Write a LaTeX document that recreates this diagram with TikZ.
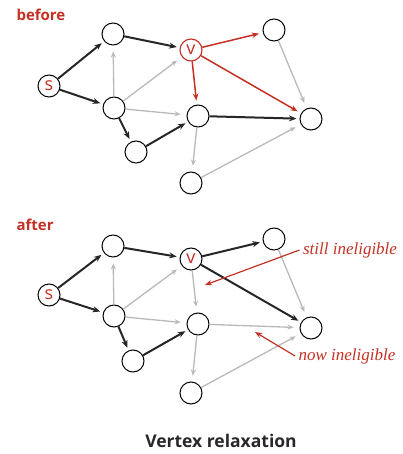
\documentclass[tikz,border=0pt]{standalone}
\usepackage{fontspec}
\setsansfont{Open Sans}
\newfontfamily\notefont{Liberation Serif}
\usetikzlibrary{arrows.meta,positioning}
\definecolor{relaxred}{RGB}{196,48,36}
\definecolor{edgegray}{RGB}{185,185,185}
\definecolor{titlegray}{RGB}{40,40,40}

\begin{document}
\begin{tikzpicture}[
    x=1pt, y=-1pt,
    vtx/.style={circle, draw=black, line width=1pt, minimum size=22pt, inner sep=0pt, fill=white},
    src/.style={vtx, text=relaxred, font=\sffamily\fontsize{18}{18}\selectfont},
    tree/.style={-{Stealth[length=7.5pt,width=6pt]}, line width=2pt, black!85, shorten >=3pt},
    other/.style={-{Stealth[length=6pt,width=5pt]}, line width=1.3pt, edgegray, shorten >=6pt},
    relax/.style={-{Stealth[length=7pt,width=5.5pt]}, line width=1.5pt, relaxred, shorten >=4pt},
    heading/.style={anchor=west, text=relaxred, font=\sffamily\bfseries\fontsize{15}{15}\selectfont},
    note/.style={text=relaxred, font=\notefont\itshape\fontsize{17}{17}\selectfont},
    pointer/.style={-{Stealth[length=7pt,width=5.5pt]}, line width=1.2pt, relaxred}
]
\useasboundingbox (0,0) rectangle (403,454);

% Before
\node[heading] at (13,15) {before};
\node[src] (bs) at (49,86) {s};
\node[vtx] (ba) at (113,34) {};
\node[src, draw=relaxred, line width=1.1pt] (bv) at (191,50) {v};
\node[vtx] (bb) at (274,30) {};
\node[vtx] (bc) at (114,108) {};
\node[vtx] (bd) at (198,116) {};
\node[vtx] (be) at (311,119) {};
\node[vtx] (bf) at (136,152) {};
\node[vtx] (bg) at (191,183) {};

\draw[other] (bc) -- (ba);
\draw[other] (bc) -- (bv);
\draw[other] (bc) -- (bd);
\draw[other] (bd) -- (bg);
\draw[other] (bg) -- (be);
\draw[other] (bb) -- (be);
\draw[tree] (bs) -- (ba);
\draw[tree] (bs) -- (bc);
\draw[tree] (ba) -- (bv);
\draw[tree] (bc) -- (bf);
\draw[tree] (bf) -- (bd);
\draw[tree] (bd) -- (be);
\draw[relax] (bv) -- (bb);
\draw[relax] (bv) -- (bd);
\draw[relax] (bv) -- (be);

% After
\node[heading] at (13,225) {after};
\node[src] (as) at (49,295) {s};
\node[vtx] (aa) at (113,246) {};
\node[src] (av) at (191,259) {v};
\node[vtx] (ab) at (274,239) {};
\node[vtx] (ac) at (114,316) {};
\node[vtx] (ad) at (198,324) {};
\node[vtx] (ae) at (311,328) {};
\node[vtx] (af) at (133,361) {};
\node[vtx] (ag) at (191,393) {};

\draw[other] (ac) -- (aa);
\draw[other] (ac) -- (av);
\draw[other] (ac) -- (ad);
\draw[other] (av) -- (ad);
\draw[other] (ad) -- (ae);
\draw[other] (ad) -- (ag);
\draw[other] (ag) -- (ae);
\draw[other] (ab) -- (ae);
\draw[tree] (as) -- (aa);
\draw[tree] (as) -- (ac);
\draw[tree] (aa) -- (av);
\draw[tree] (ac) -- (af);
\draw[tree] (af) -- (ad);
\draw[tree] (av) -- (ab);
\draw[tree] (av) -- (ae);

% Notes
\node[note] (still) at (350,250) {still ineligible};
\node[note] (now) at (347,356) {now ineligible};
\coordinate (stillend) at (205,285);
\coordinate (nowend) at (255,332);
\draw[pointer] (still.west) -- (stillend);
\draw[pointer] (now.west) -- (nowend);

% Caption
\node[text=titlegray, font=\sffamily\bfseries\fontsize{17.5}{17.5}\selectfont] (caption) at (221,441) {Vertex relaxation};

\end{tikzpicture}
\end{document}
